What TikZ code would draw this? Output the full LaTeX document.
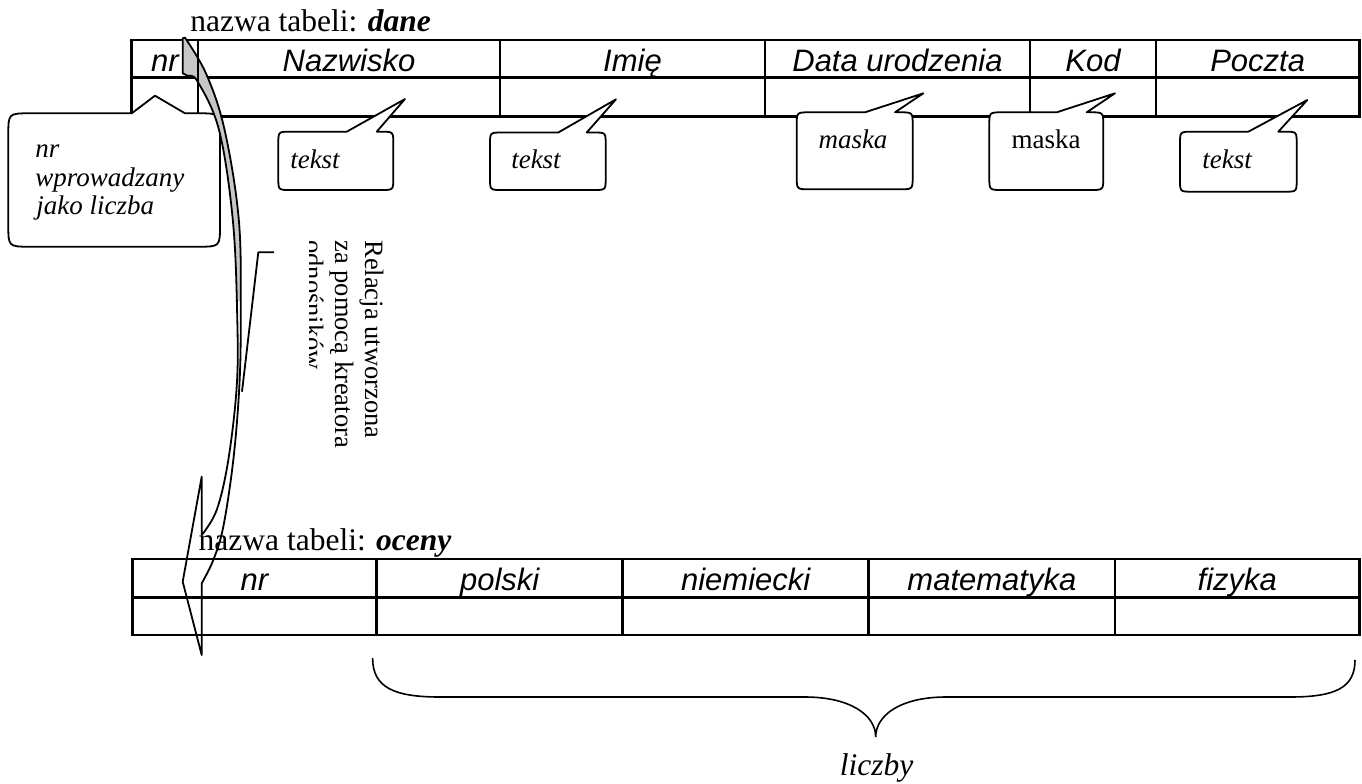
\documentclass[tikz,border=0pt]{standalone}
\usepackage{fontspec}
\setmainfont{Liberation Serif}
\newfontfamily\arialf{Liberation Sans}
\newcommand{\mycallout}[9]{%
 \draw[cbox] (#5,#2) -- (#7,#8) -- (#6,#2) -- ({#3-#9},#2) .. controls (#3,#2) .. (#3,{#2+#9})
   -- (#3,{#4-#9}) .. controls (#3,#4) .. ({#3-#9},#4) -- ({#1+#9},#4) .. controls (#1,#4) .. (#1,{#4-#9})
   -- (#1,{#2+#9}) .. controls (#1,#2) .. ({#1+#9},#2) -- cycle;}
\newcommand{\arrowshape}{(182.7,38.3) -- plot[smooth, tension=0.6] coordinates {(185,37.7) (206.7,75) (225,131.7) (239,222) (240.7,320) (239.3,387) (233.3,460) (223.3,526.7) (213.3,560) (201.7,583.3)} -- (201.7,655) -- (182.7,581.7) -- (201.7,476.7) -- plot[smooth, tension=0.6] coordinates {(201.7,535) (216.7,510) (228.3,460) (236.7,386.7) (237.3,320) (233,222) (219.3,131) (197.7,81.7) (187,75.5) (182.7,73.3)} -- cycle}
\begin{document}
\begin{tikzpicture}[x=0.5pt,y=-0.5pt,
  tbl/.style={line width=1.25pt},
  hdr/.style={font=\arialf\itshape\fontsize{15.5}{18}\selectfont, anchor=base, inner sep=0pt},
  ctext/.style={font=\itshape\fontsize{13.5}{16}\selectfont, anchor=base, inner sep=0pt},
  utext/.style={font=\fontsize{13.5}{16}\selectfont, anchor=base, inner sep=0pt},
  ttl/.style={font=\fontsize{15.75}{18}\selectfont, anchor=base west, inner sep=0pt},
  vtext/.style={font=\fontsize{13.25}{15}\selectfont, anchor=base west, inner sep=0pt, rotate=-90},
  cbox/.style={draw=black, fill=white, line width=0.9pt, line join=round},
  thin/.style={line width=0.9pt, line join=round}]
\useasboundingbox (0,0) rectangle (1362,783);
% top table
\draw[tbl] (131.7,40) rectangle (1359.5,116.7);
\draw[tbl] (131.7,77.7) -- (1359.5,77.7);
\foreach \cx in {198,500,765,1030,1156} \draw[tbl] (\cx,40) -- (\cx,116.7);
% bottom table
\draw[tbl] (132.3,559) rectangle (1359.5,635);
\draw[tbl] (132.3,597.3) -- (1359.5,597.3);
\foreach \cx in {376.7,622.6,868.7,1115} \draw[tbl] (\cx,559) -- (\cx,635);
% callouts
\mycallout{8.3}{113.3}{220}{246.7}{131.7}{185}{155}{95.7}{22}
\mycallout{278.3}{131.7}{393.3}{190}{346.7}{376.7}{405}{99}{12}
\mycallout{490}{132.5}{605.7}{190}{558.3}{586.7}{616}{99.3}{12}
\mycallout{796.7}{112.3}{912.7}{189.3}{865}{895}{923.3}{93.3}{13}
\mycallout{989.3}{112.3}{1103.3}{190}{1056.7}{1086.7}{1115}{93.3}{13}
\mycallout{1180}{131.7}{1296.7}{191.7}{1248.3}{1278.3}{1307.3}{100}{12}
% curved arrow
\begin{scope}
\clip (100,0) rectangle (300,300);
\fill[black!22] \arrowshape;
\end{scope}
\draw[tbl] (198,40) -- (198,113);
\draw[thin] \arrowshape;
% titles
\node[ttl] (t1) at (190,31.5) {nazwa tabeli: \textbf{\textit{dane}}};
\node[ttl] (t2) at (198.3,550) {nazwa tabeli: \textbf{\textit{oceny}}};
% headers
\node[hdr] (h1) at (164.9,71.5) {nr};
\node[hdr] (h2) at (349,71.5) {Nazwisko};
\node[hdr] (h3) at (632.5,71.5) {Imię};
\node[hdr] (h4) at (897.5,71.5) {Data urodzenia};
\node[hdr] (h5) at (1093,71.5) {Kod};
\node[hdr] (h6) at (1257.7,71.5) {Poczta};
\node[hdr] (g1) at (254.5,590) {nr};
\node[hdr] (g2) at (499.7,590) {polski};
\node[hdr] (g3) at (745.7,590) {niemiecki};
\node[hdr] (g4) at (991.9,590) {matematyka};
\node[hdr] (g5) at (1237.3,590) {fizyka};
% callout texts
\node[ctext, anchor=base west] (c1a) at (35,157) {nr};
\node[ctext, anchor=base west] (c1b) at (35,186) {wprowadzany};
\node[ctext, anchor=base west] (c1c) at (36,214) {jako liczba};
\node[ctext] (c2) at (315,168) {tekst};
\node[ctext] (c3) at (536,168) {tekst};
\node[ctext] (c4) at (853,148.3) {maska};
\node[utext] (c5) at (1046,148.3) {maska};
\node[ctext] (c6) at (1227,168) {tekst};
% vertical relation label
\node[vtext] (v1) at (365,240) {Relacja utworzona};
\node[vtext] (v2) at (335,240) {za pomocą kreatora};
\begin{scope}
\clip (309.5,200) rectangle (330,460);
\node[vtext] (v3) at (305,240) {odnośników};
\end{scope}
\coordinate (p1) at (274,252.3);
\coordinate (p2) at (258.3,252.3);
\coordinate (p3) at (242,391.7);
\draw[thin] (p1) -- (p2) -- (p3);
% brace
\draw[line width=0.8pt] (372.6,658) .. controls (372.6,688) and (395,697) .. (440,697) -- (805,697) .. controls (850,697) and (875.7,715) .. (875.7,737) .. controls (875.7,715) and (901,697) .. (946,697) -- (1290,697) .. controls (1335,697) and (1355,688) .. (1355,660);
\node[ctext, font=\itshape\fontsize{15.75}{18}\selectfont] (lz) at (876.7,775) {liczby};
\end{tikzpicture}
\end{document}
